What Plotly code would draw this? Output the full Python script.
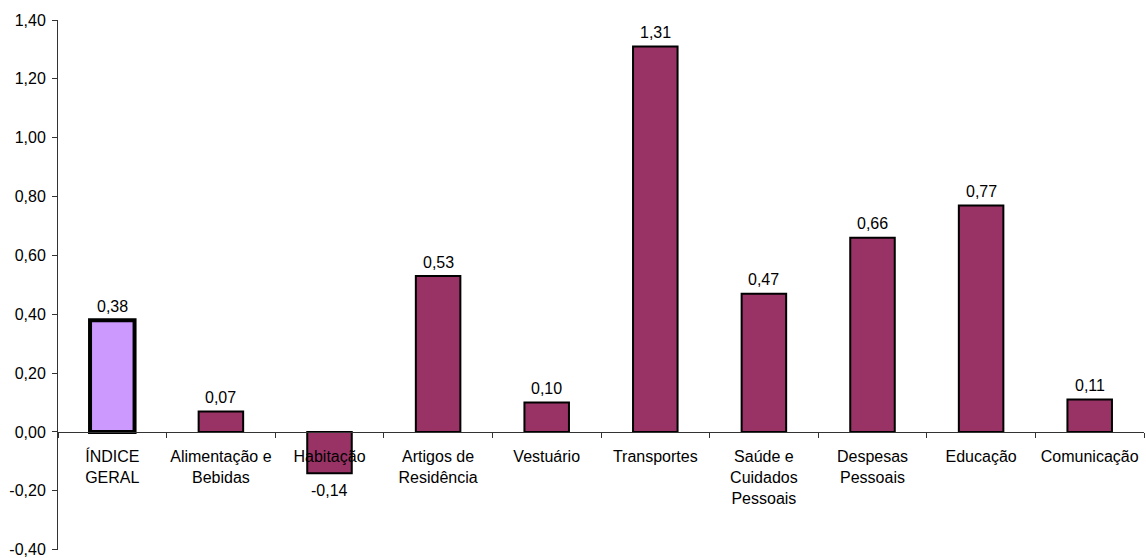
import plotly.graph_objects as go

categories = ["ÍNDICE<br>GERAL", "Alimentação e<br>Bebidas", "Habitação", "Artigos de<br>Residência",
              "Vestuário", "Transportes", "Saúde e<br>Cuidados<br>Pessoais", "Despesas<br>Pessoais",
              "Educação", "Comunicação"]
values = [0.38, 0.07, -0.14, 0.53, 0.10, 1.31, 0.47, 0.66, 0.77, 0.11]
bar_colors = ["#CC99FF"] + ["#993366"] * 9
border_widths = [4] + [2] * 9
y_ticks = [-0.4, -0.2, 0.0, 0.2, 0.4, 0.6, 0.8, 1.0, 1.2, 1.4]
y_range = [-0.401, 1.4]


def fmt(v):
    return f"{v:.2f}".replace(".", ",")


FONT = "Liberation Sans, Arial, sans-serif"
FS = 16

fig = go.Figure()
fig.add_trace(go.Bar(
    x=categories, y=values, width=0.41,
    marker=dict(color=bar_colors, line=dict(color="black", width=border_widths)),
    hoverinfo="skip",
))

for c, v in zip(categories, values):
    fig.add_annotation(
        x=c, y=v, text=fmt(v), showarrow=False,
        yanchor="bottom" if v >= 0 else "top",
        yshift=3.5 if v >= 0 else -7,
        font=dict(family=FONT, size=FS, color="black"),
    )

zero_pos = (0 - y_range[0]) / (y_range[1] - y_range[0])

fig.update_layout(
    width=1146, height=558,
    margin=dict(l=58, r=2, t=20, b=8),
    paper_bgcolor="white", plot_bgcolor="white",
    showlegend=False, separators=",.",
    font=dict(family=FONT, size=FS, color="black"),
    xaxis=dict(
        anchor="free", position=zero_pos,
        showline=True, linecolor="#333333", linewidth=1,
        ticks="outside", ticklen=5, tickcolor="#333333", tickson="boundaries",
        ticklabelstandoff=10, tickangle=0, ticklabeloverflow="allow",
        showgrid=False, zeroline=False, automargin=False,
        tickfont=dict(family=FONT, size=FS, color="black"),
        range=[-0.5, len(categories) - 0.5],
    ),
    yaxis=dict(
        range=y_range, tickvals=y_ticks, ticktext=[fmt(t) for t in y_ticks],
        showline=True, linecolor="#333333", linewidth=1,
        ticks="outside", ticklen=5, tickcolor="#333333",
        ticklabelstandoff=3, ticklabeloverflow="allow",
        showgrid=False, zeroline=False, automargin=False,
        tickfont=dict(family=FONT, size=FS, color="black"),
    ),
)

fig.write_html("out.html", config={"displayModeBar": False},
               post_script="document.body.style.margin='0';document.body.style.overflow='hidden';")
